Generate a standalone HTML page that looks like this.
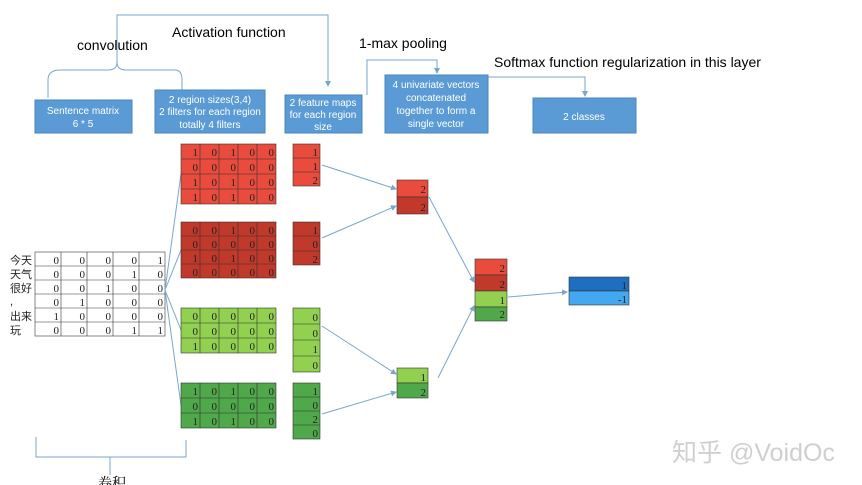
<!DOCTYPE html>
<html><head><meta charset="utf-8"><style>
body{margin:0;background:#fff;}
svg{display:block;font-family:"Liberation Sans",sans-serif;}
.n{font-family:"Liberation Serif",serif;font-size:11px;text-anchor:end;fill:#222;}
.b{fill:#5b9bd5;stroke:#4a86c0;}
.bt{fill:#fff;font-size:10px;text-anchor:middle;}
.l{stroke:#7aa6cc;stroke-width:1;fill:none;}
.g{stroke:#333;stroke-width:0.6;}
</style></head><body>
<svg width="862" height="485" viewBox="0 0 862 485" xmlns="http://www.w3.org/2000/svg">
<defs><marker id="a" markerWidth="6" markerHeight="6" refX="5" refY="3" orient="auto"><path d="M0,0 L6,3 L0,6z" fill="#7aa6cc"/></marker></defs>
<text x="77" y="50" font-size="14">convolution</text>
<text x="172" y="37" font-size="14">Activation function</text>
<text x="359" y="48" font-size="14">1-max pooling</text>
<text x="494" y="67" font-size="14">Softmax function regularization in this layer</text>
<path class="l" d="M48,98 L48,80 Q48,70 60,70 L108,70 Q117,70 117,62 Q117,70 126,70 L175,70 Q182,70 182,80 L182,92"/>
<path class="l" d="M117,62 L117,15 L328,15 L328,86" marker-end="url(#a)"/>
<path class="l" d="M367,95 L367,60 L437,60 L437,73" marker-end="url(#a)"/>
<path class="l" d="M488,77 L585,77 L585,96" marker-end="url(#a)"/>
<rect class="b" x="35" y="100" width="97" height="33"/>
<text class="bt" x="83" y="114">Sentence matrix</text><text class="bt" x="83" y="127">6 * 5</text>
<rect class="b" x="155" y="90" width="110" height="43"/>
<text class="bt" x="210" y="103">2 region sizes(3,4)</text><text class="bt" x="210" y="115">2 filters for each region</text><text class="bt" x="210" y="128">totally 4 filters</text>
<rect class="b" x="285" y="95" width="77" height="38"/>
<text class="bt" x="323" y="106">2 feature maps</text><text class="bt" x="323" y="118">for each region</text><text class="bt" x="323" y="130">size</text>
<rect class="b" x="385" y="75" width="103" height="58"/>
<text class="bt" x="436" y="88">4 univariate vectors</text><text class="bt" x="436" y="101">concatenated</text><text class="bt" x="436" y="114">together to form a</text><text class="bt" x="436" y="127">single vector</text>
<rect class="b" x="533" y="98" width="103" height="35"/>
<text class="bt" x="584" y="120">2 classes</text>
<g font-family="'Liberation Sans','Noto Sans CJK SC',sans-serif" font-size="11" fill="#222">
<text x="10" y="264">今天</text><text x="10" y="278">天气</text><text x="10" y="292">很好</text><text x="10" y="305">,</text><text x="10" y="320">出来</text><text x="10" y="334">玩</text></g>
<rect x="35" y="252" width="130" height="84" fill="#fff" stroke="#555" stroke-width="0.7"/>
<path class="g" d="M61,252V336M87,252V336M113,252V336M139,252V336M35,266H165M35,280H165M35,294H165M35,308H165M35,322H165"/>
<g class="n">
<text x="59" y="264">0</text><text x="85" y="264">0</text><text x="111" y="264">0</text><text x="137" y="264">0</text><text x="163" y="264">1</text>
<text x="59" y="278">0</text><text x="85" y="278">0</text><text x="111" y="278">0</text><text x="137" y="278">1</text><text x="163" y="278">0</text>
<text x="59" y="292">0</text><text x="85" y="292">0</text><text x="111" y="292">1</text><text x="137" y="292">0</text><text x="163" y="292">0</text>
<text x="59" y="306">0</text><text x="85" y="306">1</text><text x="111" y="306">0</text><text x="137" y="306">0</text><text x="163" y="306">0</text>
<text x="59" y="320">1</text><text x="85" y="320">0</text><text x="111" y="320">0</text><text x="137" y="320">0</text><text x="163" y="320">0</text>
<text x="59" y="334">0</text><text x="85" y="334">0</text><text x="111" y="334">0</text><text x="137" y="334">1</text><text x="163" y="334">1</text>
</g>
<path class="l" d="M165,290L181,174M165,290L181,250M165,290L181,330M165,290L181,405"/>
<rect x="181" y="144" width="95" height="60" fill="#e94b3c" stroke="#333" stroke-width="0.6"/>
<path class="g" d="M200,144V204M219,144V204M238,144V204M257,144V204M181,159H276M181,174H276M181,189H276"/>
<g class="n"><text x="198" y="156">1</text><text x="217" y="156">0</text><text x="236" y="156">1</text><text x="255" y="156">0</text><text x="274" y="156">0</text>
<text x="198" y="171">0</text><text x="217" y="171">0</text><text x="236" y="171">0</text><text x="255" y="171">0</text><text x="274" y="171">0</text>
<text x="198" y="186">1</text><text x="217" y="186">0</text><text x="236" y="186">1</text><text x="255" y="186">0</text><text x="274" y="186">0</text>
<text x="198" y="201">1</text><text x="217" y="201">0</text><text x="236" y="201">1</text><text x="255" y="201">0</text><text x="274" y="201">0</text></g>
<rect x="181" y="222" width="95" height="56" fill="#c0392b" stroke="#333" stroke-width="0.6"/>
<path class="g" d="M200,222V278M219,222V278M238,222V278M257,222V278M181,236H276M181,250H276M181,264H276"/>
<g class="n"><text x="198" y="234">0</text><text x="217" y="234">0</text><text x="236" y="234">1</text><text x="255" y="234">0</text><text x="274" y="234">0</text>
<text x="198" y="248">0</text><text x="217" y="248">0</text><text x="236" y="248">0</text><text x="255" y="248">0</text><text x="274" y="248">0</text>
<text x="198" y="262">1</text><text x="217" y="262">0</text><text x="236" y="262">1</text><text x="255" y="262">0</text><text x="274" y="262">0</text>
<text x="198" y="276">0</text><text x="217" y="276">0</text><text x="236" y="276">0</text><text x="255" y="276">0</text><text x="274" y="276">0</text></g>
<rect x="181" y="308" width="95" height="45" fill="#92d050" stroke="#333" stroke-width="0.6"/>
<path class="g" d="M200,308V353M219,308V353M238,308V353M257,308V353M181,323H276M181,338H276"/>
<g class="n"><text x="198" y="320">0</text><text x="217" y="320">0</text><text x="236" y="320">0</text><text x="255" y="320">0</text><text x="274" y="320">0</text>
<text x="198" y="335">0</text><text x="217" y="335">0</text><text x="236" y="335">0</text><text x="255" y="335">0</text><text x="274" y="335">0</text>
<text x="198" y="350">1</text><text x="217" y="350">0</text><text x="236" y="350">0</text><text x="255" y="350">0</text><text x="274" y="350">0</text></g>
<rect x="181" y="383" width="95" height="45" fill="#4fa84a" stroke="#333" stroke-width="0.6"/>
<path class="g" d="M200,383V428M219,383V428M238,383V428M257,383V428M181,398H276M181,413H276"/>
<g class="n"><text x="198" y="395">1</text><text x="217" y="395">0</text><text x="236" y="395">1</text><text x="255" y="395">0</text><text x="274" y="395">0</text>
<text x="198" y="410">0</text><text x="217" y="410">0</text><text x="236" y="410">0</text><text x="255" y="410">0</text><text x="274" y="410">0</text>
<text x="198" y="425">1</text><text x="217" y="425">0</text><text x="236" y="425">1</text><text x="255" y="425">0</text><text x="274" y="425">0</text></g>
<rect x="293" y="144" width="27" height="42" fill="#e94b3c" stroke="#333" stroke-width="0.6"/>
<path class="g" d="M293,158H320M293,172H320"/>
<g class="n"><text x="318" y="156">1</text><text x="318" y="170">1</text><text x="318" y="184">2</text></g>
<rect x="293" y="222" width="27" height="43" fill="#c0392b" stroke="#333" stroke-width="0.6"/>
<path class="g" d="M293,236H320M293,251H320"/>
<g class="n"><text x="318" y="234">1</text><text x="318" y="248">0</text><text x="318" y="263">2</text></g>
<rect x="293" y="308" width="27" height="64" fill="#92d050" stroke="#333" stroke-width="0.6"/>
<path class="g" d="M293,324H320M293,340H320M293,356H320"/>
<g class="n"><text x="318" y="321">0</text><text x="318" y="337">0</text><text x="318" y="353">1</text><text x="318" y="369">0</text></g>
<rect x="293" y="383" width="27" height="56" fill="#4fa84a" stroke="#333" stroke-width="0.6"/>
<path class="g" d="M293,397H320M293,411H320M293,425H320"/>
<g class="n"><text x="318" y="395">1</text><text x="318" y="409">0</text><text x="318" y="423">2</text><text x="318" y="437">0</text></g>
<path class="l" d="M322,165L396,189" marker-end="url(#a)"/>
<path class="l" d="M322,238L396,206" marker-end="url(#a)"/>
<path class="l" d="M322,326L396,374" marker-end="url(#a)"/>
<path class="l" d="M322,414L396,392" marker-end="url(#a)"/>
<path class="l" d="M429,197L474,282" marker-end="url(#a)"/>
<path class="l" d="M438,378L474,306" marker-end="url(#a)"/>
<path class="l" d="M508,297L567,292" marker-end="url(#a)"/>
<rect x="397" y="180" width="31" height="17" fill="#e94b3c" stroke="#333" stroke-width="0.6"/>
<rect x="397" y="197" width="31" height="17" fill="#c0392b" stroke="#333" stroke-width="0.6"/>
<g class="n"><text x="426" y="193">2</text><text x="426" y="211">2</text></g>
<rect x="397" y="368" width="31" height="15" fill="#92d050" stroke="#333" stroke-width="0.6"/>
<rect x="397" y="383" width="31" height="15" fill="#4fa84a" stroke="#333" stroke-width="0.6"/>
<g class="n"><text x="426" y="381">1</text><text x="426" y="396">2</text></g>
<rect x="475" y="259" width="32" height="16" fill="#e94b3c" stroke="#333" stroke-width="0.6"/>
<rect x="475" y="275" width="32" height="16" fill="#c0392b" stroke="#333" stroke-width="0.6"/>
<rect x="475" y="291" width="32" height="16" fill="#92d050" stroke="#333" stroke-width="0.6"/>
<rect x="475" y="307" width="32" height="14" fill="#4fa84a" stroke="#333" stroke-width="0.6"/>
<g class="n"><text x="505" y="272">2</text><text x="505" y="288">2</text><text x="505" y="304">1</text><text x="505" y="318">2</text></g>
<rect x="569" y="277" width="60" height="14" fill="#1f6fc0" stroke="#333" stroke-width="0.6"/>
<rect x="569" y="291" width="60" height="14" fill="#42a8ef" stroke="#333" stroke-width="0.6"/>
<g class="n"><text x="627" y="289">1</text><text x="627" y="303">-1</text></g>
<path class="l" d="M36,437V457H186V440M110,457V475"/>
<text x="98" y="488" font-family="'Liberation Serif','Noto Serif CJK SC',serif" font-size="14">卷积</text>
<text x="672" y="461" font-family="'Liberation Sans','Noto Sans CJK SC',sans-serif" font-size="25" fill="#cfcfcf">知乎 @VoidOc</text>
</svg>
</body></html>
